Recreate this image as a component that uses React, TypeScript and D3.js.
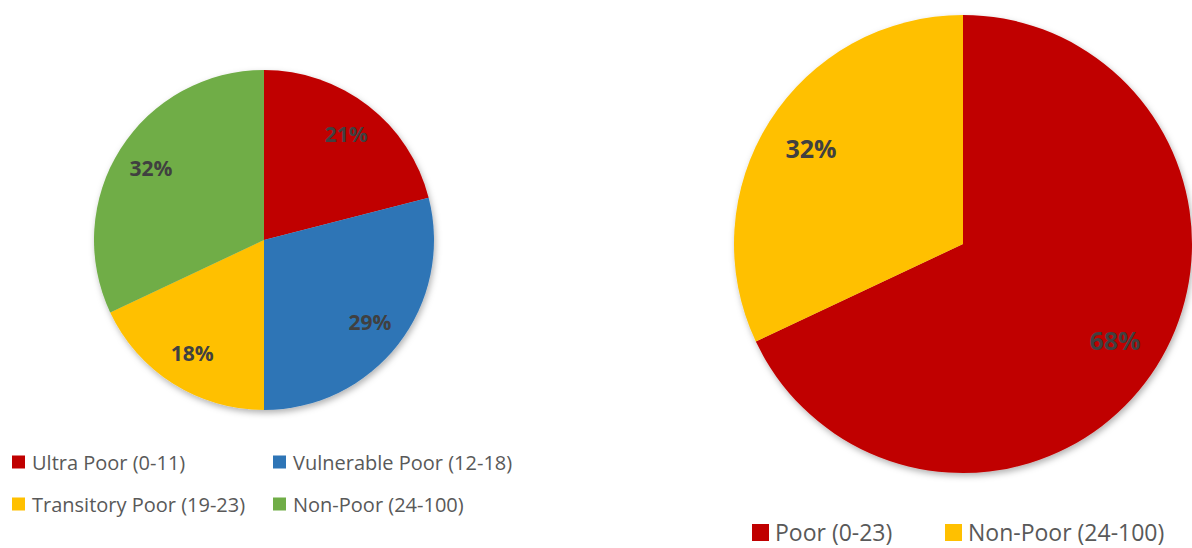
import React from "react";
import * as d3 from "d3";

const leftCategories = ["Ultra Poor (0-11)", "Vulnerable Poor (12-18)", "Transitory Poor (19-23)", "Non-Poor (24-100)"];
const leftValues = [21, 29, 18, 32];
const leftColors = ["#C00000", "#2E75B6", "#FFC000", "#70AD47"];

const rightCategories = ["Poor (0-23)", "Non-Poor (24-100)"];
const rightValues = [68, 32];
const rightColors = ["#C00000", "#FFC000"];

const FONT = "'Open Sans', 'Liberation Sans', sans-serif";

function Pie({ cx, cy, r, values, colors, labelSize, labelR }: any) {
  const pie = d3.pie<number>().sort(null).value((d) => d);
  const arcs = pie(values);
  const arc = d3.arc<d3.PieArcDatum<number>>().innerRadius(0).outerRadius(r);
  const labelArc = d3.arc<d3.PieArcDatum<number>>().innerRadius(labelR).outerRadius(labelR);
  const total = d3.sum(values);
  return (
    <g transform={`translate(${cx},${cy})`}>
      <g filter="url(#shadow)">
        {arcs.map((a, i) => (
          <path key={i} d={arc(a) || ""} fill={colors[i]} />
        ))}
      </g>
      {arcs.map((a, i) => {
        const [x, y] = labelArc.centroid(a);
        return (
          <text
            key={"l" + i}
            x={x}
            y={y}
            textAnchor="middle"
            dominantBaseline="central"
            fontFamily={FONT}
            fontWeight="bold"
            fontSize={labelSize}
            fill="#404040"
          >
            {Math.round((values[i] / total) * 100)}%
          </text>
        );
      })}
    </g>
  );
}

export default function App() {
  const leftLegendPos = [
    [12, 462],
    [273, 462],
    [12, 504],
    [273, 504],
  ];
  const rightLegendPos = [
    [752, 532],
    [945, 532],
  ];
  return (
    <svg width={1192} height={548} style={{ position: "absolute", left: 0, top: 0, background: "#fff" }}>
      <defs>
        <filter id="shadow" x="-20%" y="-20%" width="140%" height="140%">
          <feDropShadow dx="1.5" dy="3" stdDeviation="3" floodColor="#000" floodOpacity="0.3" />
        </filter>
      </defs>
      <Pie cx={264} cy={240} r={170} values={leftValues} colors={leftColors} labelSize={21} labelR={134} />
      <Pie cx={963} cy={244} r={229} values={rightValues} colors={rightColors} labelSize={25} labelR={180} />
      {leftCategories.map((c, i) => (
        <g key={c} transform={`translate(${leftLegendPos[i][0]},${leftLegendPos[i][1]})`}>
          <rect x={0} y={-6.5} width={13} height={13} fill={leftColors[i]} />
          <text x={20} y={0} dominantBaseline="central" fontFamily={FONT} fontSize={20} fill="#595959">
            {c}
          </text>
        </g>
      ))}
      {rightCategories.map((c, i) => (
        <g key={c} transform={`translate(${rightLegendPos[i][0]},${rightLegendPos[i][1]})`}>
          <rect x={0} y={-8} width={17} height={17} fill={rightColors[i]} />
          <text x={23} y={0} dominantBaseline="central" fontFamily={FONT} fontSize={23} fill="#595959">
            {c}
          </text>
        </g>
      ))}
    </svg>
  );
}
